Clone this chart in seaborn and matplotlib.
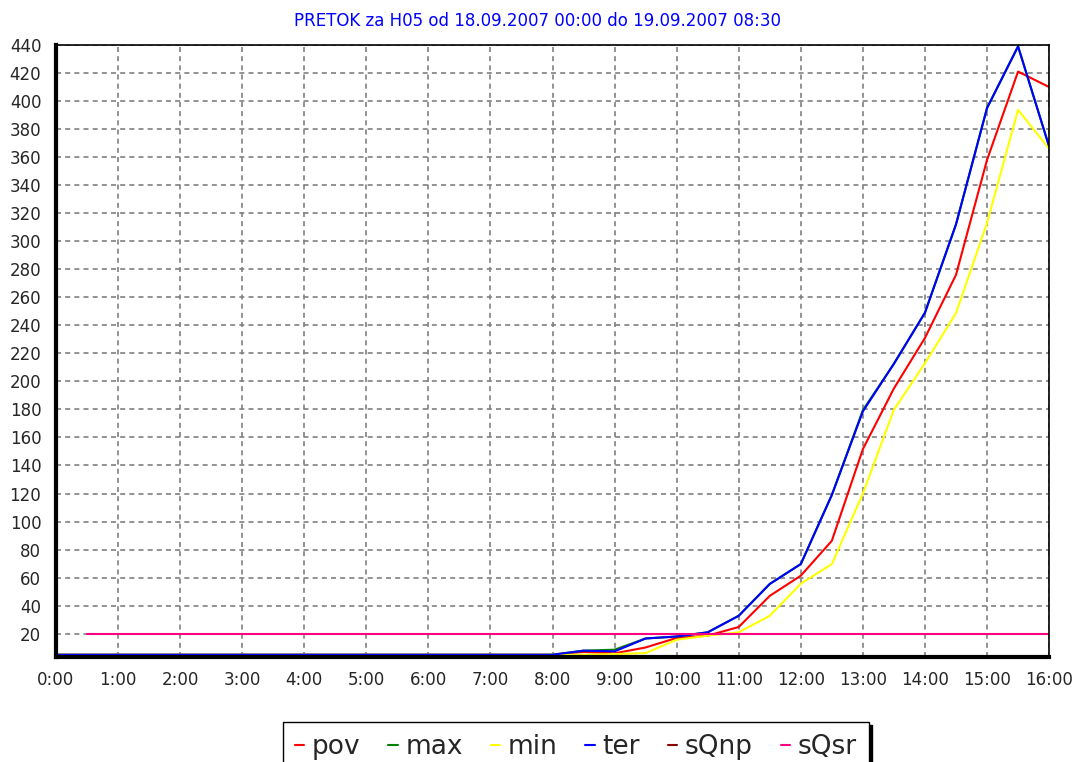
import numpy as np
import pandas as pd
import matplotlib
matplotlib.use("Agg")
import matplotlib.pyplot as plt
from matplotlib.ticker import MultipleLocator, FuncFormatter
from matplotlib.lines import Line2D
import seaborn as sns

# time of day in hours, every 30 minutes
hours = [h / 2 for h in range(33)]

flat = [5.0] * 17  # 0:00 .. 8:00

pov = flat + [7.0, 6.0, 10.2, 17.0, 18.6, 24.8, 47.0, 61.4, 86.3, 151.7,
              195.0, 231.0, 276.0, 358.0, 421.0, 410.0]
mx = flat + [7.9, 8.6, 16.6, 18.0, 21.0, 32.8, 55.5, 69.7, 119.0, 179.5,
             212.6, 249.0, 312.0, 395.0, 439.0, 367.6]
mn = flat + [5.0, 5.5, 6.2, 15.7, 18.6, 21.0, 32.8, 55.7, 69.7, 120.0,
             179.8, 213.0, 248.7, 313.0, 393.7, 366.0]
ter = flat + [7.9, 7.4, 16.6, 18.0, 21.0, 32.8, 55.5, 69.7, 119.0, 178.6,
              212.6, 249.0, 312.0, 395.0, 439.0, 367.6]
sqsr = [np.nan] + [20.0] * 32

series = ["pov", "max", "min", "ter", "sQnp", "sQsr"]
colors = ["#ff0000", "#008000", "#ffff00", "#0000ff", "#8b0000", "#ff0080"]

title = "PRETOK za H05 od 18.09.2007 00:00 do 19.09.2007 08:30"

frames = []
for name, vals in [("pov", pov), ("max", mx), ("min", mn), ("ter", ter), ("sQsr", sqsr)]:
    frames.append(pd.DataFrame({"t": hours, "Q": vals, "serija": name}))
data = pd.concat(frames, ignore_index=True).dropna()

sns.set_style("white")
plt.rcParams["font.family"] = ["DejaVu Sans"]

fig = plt.figure(figsize=(10.76, 7.62), dpi=100)
ax = fig.add_axes([0.052, 0.138, 0.923, 0.803])

sns.lineplot(data=data, x="t", y="Q", hue="serija",
             hue_order=["pov", "max", "min", "ter", "sQsr"],
             palette=dict(zip(series, colors)), linewidth=1.5,
             legend=False, ax=ax)

ax.set_xlim(0, 16)
ax.set_ylim(3.5, 440)
ax.xaxis.set_major_locator(MultipleLocator(1))
ax.xaxis.set_minor_locator(MultipleLocator(0.25))
ax.xaxis.set_major_formatter(FuncFormatter(lambda v, p: "%d:00" % int(round(v))))
ax.yaxis.set_minor_locator(MultipleLocator(5))
ax.set_yticks(range(20, 441, 20))
ax.tick_params(axis="both", which="major", labelsize=12, length=7, width=1,
               color="#555555", direction="out")
ax.tick_params(axis="both", which="minor", length=3, width=1, color="#555555")
ax.grid(True, which="major", linestyle=(0, (3, 2.5)), color="#808080", linewidth=1.2)
ax.set_xlabel("")
ax.set_ylabel("")

for s in ["left", "bottom"]:
    ax.spines[s].set_linewidth(3)
    ax.spines[s].set_color("black")
for s in ["top", "right"]:
    ax.spines[s].set_linewidth(1.2)
    ax.spines[s].set_color("black")

fig.text(0.5, 0.972, title, ha="center", va="center", color="#0000ff", fontsize=12)

handles = [Line2D([], [], color=c, linewidth=1.5) for c in colors]
leg = fig.legend(handles, series, loc="upper left", bbox_to_anchor=(0.263, 0.0525),
                 ncol=6, fontsize=19, frameon=True, fancybox=False,
                 edgecolor="black", handlelength=0.35, handletextpad=0.3,
                 columnspacing=1.05, borderpad=0.45, borderaxespad=0,
                 shadow={"color": "black", "alpha": 1})
leg.get_frame().set_linewidth(1)

fig.savefig("out.png", dpi=100)
